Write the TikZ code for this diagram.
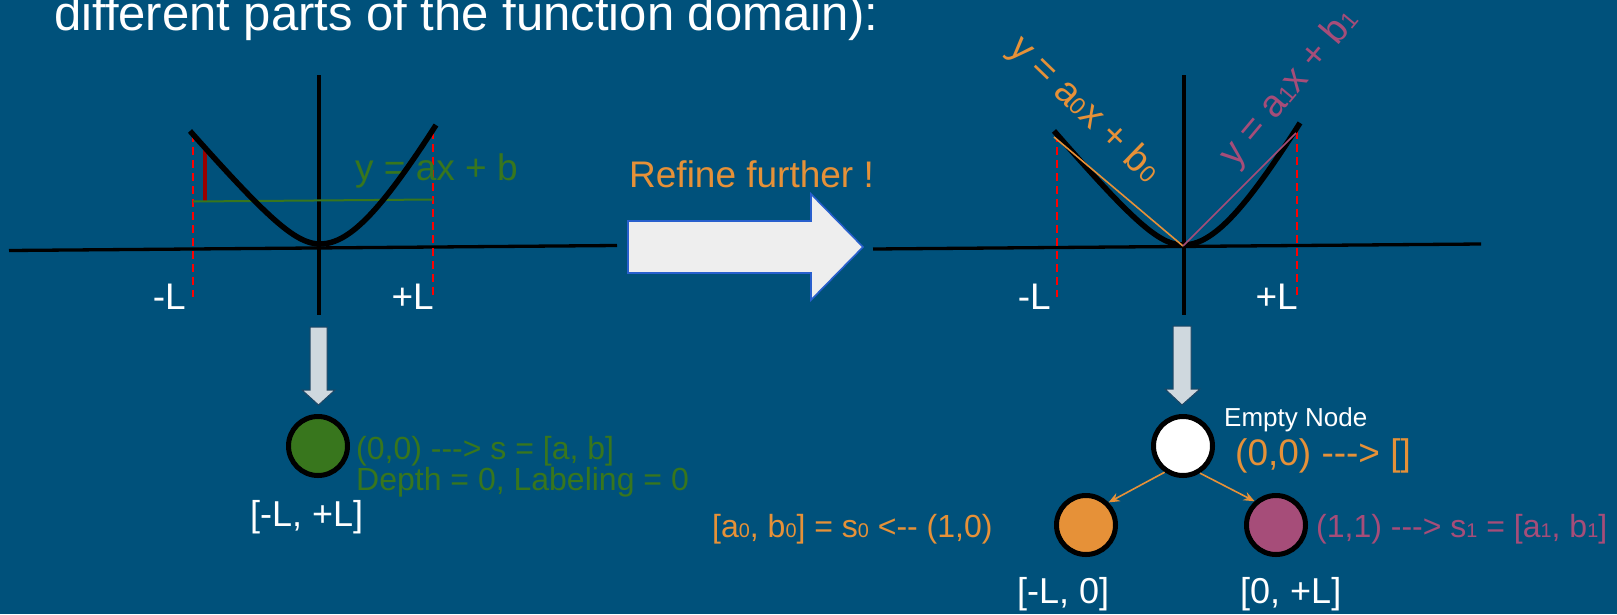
\documentclass[tikz,border=0pt]{standalone}
\usepackage{fontspec}
\usepackage{graphicx}
\setmainfont{Liberation Sans}
\usetikzlibrary{arrows.meta}
\definecolor{bg}{RGB}{0,81,123}
\definecolor{cgreen}{RGB}{56,118,29}
\definecolor{corange}{RGB}{230,145,56}
\definecolor{cmag}{RGB}{166,77,121}
\definecolor{cdkred}{RGB}{153,0,0}
\definecolor{arrowfill}{RGB}{238,238,238}
\definecolor{arrowedge}{RGB}{40,95,205}
\definecolor{dafill}{RGB}{207,216,222}
\definecolor{daedge}{RGB}{30,70,100}
\newcommand\fs[1]{\fontsize{#1}{#1}\selectfont}
\newcommand\lo[1]{\scalebox{0.62}{#1}}
\tikzset{
  txt/.style={inner sep=0pt, anchor=base west},
  txte/.style={inner sep=0pt, anchor=base east},
  axisline/.style={line width=3.3pt, black},
  curvest/.style={line width=5.5pt, black},
  reddash/.style={red, line width=2.6pt, dash pattern=on 8pt off 5pt},
  circ/.style={circle, draw=black, line width=5pt, minimum size=59pt, inner sep=0pt},
  treearrow/.style={draw=corange, line width=1.6pt, -{Stealth[length=11pt,width=9pt]}},
  bigarrow/.style={fill=arrowfill, draw=arrowedge, line width=1.6pt},
  downarrow/.style={fill=dafill, draw=daedge, line width=1pt},
}
\begin{document}
\begin{tikzpicture}[x=1pt,y=-1pt]
\fill[bg] (0,0) rectangle (1617,614);
\useasboundingbox (0,0) rectangle (1617,614);

% title
\node[txt, text=white] (title) at (54,30) {\fs{49}different parts of the function domain):};

% ---------- left graph ----------
\draw[axisline] (9,250.5) -- (617,245.5);
\draw[axisline] (319,75) -- (319,315);
\draw[reddash] (193,134) -- (193,297);
\draw[reddash] (433,131) -- (433,297);
\draw[cdkred, line width=4pt] (205,146) -- (205,201);
\draw[cgreen, line width=2pt] (193,201.5) -- (433,199.5);
\node[txt, text=cgreen] (eqL) at (355,180) {\fs{37}y = ax + b};
\draw[curvest] plot[domain=-130:0, samples=40] ({320+\x},{244-1.177*(10*sqrt((\x/10)*(\x/10)+16)-40)})
  -- plot[domain=0:116, samples=40] ({320+\x},{244-1.817*(10*sqrt((\x/10)*(\x/10)+49)-70)});
\node[txte, text=white] (mLa) at (186,309) {\fs{37}-L};
\node[txte, text=white] (pLa) at (434,309) {\fs{37}+L};

% ---------- big arrow ----------
\draw[bigarrow] (628,221) -- (811,221) -- (811,194) -- (863,247) -- (811,300) -- (811,273) -- (628,273) -- cycle;
\node[txt, text=corange] (refine) at (629,187) {\fs{37}Refine further !};

% ---------- right graph ----------
\draw[axisline] (873,249) -- (1481,244);
\draw[axisline] (1184,75) -- (1184,315);
\draw[reddash] (1057,134) -- (1057,297);
\draw[reddash] (1297,131) -- (1297,297);
\draw[curvest] plot[domain=-129:0, samples=40] ({1183+\x},{245-1.2*(10*sqrt((\x/10)*(\x/10)+16)-40)})
  -- plot[domain=0:117, samples=40] ({1183+\x},{245-1.84*(10*sqrt((\x/10)*(\x/10)+49)-70)});
\draw[corange, line width=1.6pt] (1054,137) -- (1183,246);
\draw[cmag, line width=1.6pt] (1183,246) -- (1296,133);
\node[inner sep=0pt, text=corange, rotate=-44] (eq0) at (1084,110) {\fs{38}y = a\lo{0}x + b\lo{0}};
\node[inner sep=0pt, text=cmag, rotate=50] (eq1) at (1290,88) {\fs{38}y = a\lo{1}x + b\lo{1}};
\node[txte, text=white] (mLb) at (1051,309) {\fs{37}-L};
\node[txte, text=white] (pLb) at (1298,309) {\fs{37}+L};

% ---------- down arrows ----------
\draw[downarrow] (310,327) -- (327,327) -- (327,390) -- (335,390) -- (318.5,405) -- (302,390) -- (310,390) -- cycle;
\draw[downarrow] (1173,326) -- (1191,326) -- (1191,389) -- (1200,389) -- (1182,405) -- (1165,389) -- (1173,389) -- cycle;

% ---------- left tree ----------
\node[circ, fill=cgreen] (root0) at (318,446) {};
\node[txt, text=cgreen] (s0lab) at (356,459) {\fs{32}(0,0) -{}-{}-> s = [a, b]};
\node[txt, text=cgreen] (dlab) at (356,490) {\fs{32}Depth = 0, Labeling = 0};
\node[txt, text=white] (int0) at (250,526) {\fs{36}[-L, +L]};

% ---------- right tree ----------
\node[circ, fill=white] (root1) at (1183,446) {};
\node[circ, fill=corange] (c0) at (1086,525) {};
\node[circ, fill=cmag] (c1) at (1276,525) {};
\draw[treearrow] (root1.-125) -- (c0.45);
\draw[treearrow] (root1.-58) -- (c1.132);
\node[txt, text=white] (empty) at (1224,426) {\fs{26}Empty Node};
\node[txt, text=corange] (r1lab) at (1235,465) {\fs{37}(0,0) -{}-{}-> []};
\node[txt, text=corange] (c0lab) at (712,537) {\fs{32}[a\lo{0}, b\lo{0}] = s\lo{0} <-{}- (1,0)};
\node[txt, text=cmag] (c1lab) at (1316,537) {\fs{32}(1,1) -{}-{}-> s\lo{1} = [a\lo{1}, b\lo{1}]};
\node[txt, text=white] (int1) at (1017,603) {\fs{36}[-L, 0]};
\node[txt, text=white] (int2) at (1240,603) {\fs{36}[0, +L]};
\end{tikzpicture}
\end{document}
